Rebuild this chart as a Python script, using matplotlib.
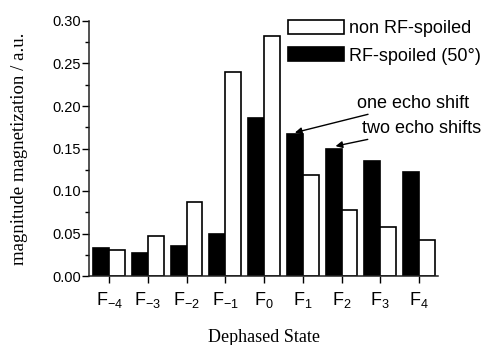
import numpy as np
import matplotlib
matplotlib.use('Agg')
import matplotlib.pyplot as plt
from matplotlib.patches import Patch
from matplotlib.ticker import MultipleLocator

plt.rcParams['font.family'] = ['Liberation Sans', 'DejaVu Sans']
plt.rcParams['mathtext.fontset'] = 'custom'
plt.rcParams['mathtext.rm'] = 'Liberation Sans'
plt.rcParams['mathtext.it'] = 'Liberation Sans:italic'

# dephased states F-4 .. F4
states = [r'F$_{-4}$', r'F$_{-3}$', r'F$_{-2}$', r'F$_{-1}$', r'F$_{0}$',
          r'F$_{1}$', r'F$_{2}$', r'F$_{3}$', r'F$_{4}$']
rf_spoiled = [0.0325, 0.0266, 0.0356, 0.0494, 0.1853, 0.1667, 0.1498, 0.1357, 0.1224]
non_spoiled = [0.0306, 0.0474, 0.0866, 0.2405, 0.282, 0.119, 0.0776, 0.058, 0.0424]

x = np.arange(len(states))
w = 0.41

fig = plt.figure(figsize=(4.89, 3.45), dpi=100)
ax = fig.add_axes([89/489, 69/345, 349/489, 255/345])

ax.bar(x - w/2, rf_spoiled, w, color='black', edgecolor='black', linewidth=1.2)
ax.bar(x + w/2, non_spoiled, w, color='white', edgecolor='black', linewidth=1.2)

ax.set_xlim(-0.52, 8.49)
ax.set_ylim(0, 0.30)
ax.set_xticks(x)
ax.set_xticklabels(states, fontsize=13)
ax.yaxis.set_major_locator(MultipleLocator(0.05))
ax.yaxis.set_minor_locator(MultipleLocator(0.025))
ax.yaxis.set_major_formatter(plt.FormatStrFormatter('%.2f'))
ax.tick_params(axis='y', labelsize=10.5, direction='out', length=5, width=1, pad=1)
ax.tick_params(axis='y', which='minor', direction='out', length=3, width=1)
ax.tick_params(axis='x', direction='out', length=5, width=1, pad=5)
for s in ['top', 'right']:
    ax.spines[s].set_visible(False)
for s in ['left', 'bottom']:
    ax.spines[s].set_linewidth(1.1)
    ax.spines[s].set_color('#222222')

ax.set_ylabel('magnitude magnetization / a.u.', family=['Liberation Serif'], fontsize=13.5, labelpad=17)
ax.set_xlabel('Dephased State', family=['Liberation Serif'], fontsize=13, labelpad=14)

handles = [Patch(facecolor='white', edgecolor='black', linewidth=1.2, label='non RF-spoiled'),
           Patch(facecolor='black', edgecolor='black', linewidth=1.2, label='RF-spoiled (50°)')]
fig.legend(handles=handles, loc='upper left', bbox_to_anchor=(288/489, 1 - 20/345),
           bbox_transform=fig.transFigure, frameon=False, fontsize=13,
           handlelength=3.1, handleheight=0.83, handletextpad=0.28,
           labelspacing=0.55, borderpad=0, borderaxespad=0)

arrow = dict(arrowstyle='-|>', color='black', lw=1.0, mutation_scale=10, shrinkA=0, shrinkB=0)
ax.annotate('one echo shift', xy=(5 - w/2, rf_spoiled[5] + 0.002), xytext=(6.4, 0.2035),
            fontsize=13, va='center', ha='left', arrowprops=arrow)
ax.annotate('two echo shifts', xy=(6 - w/2 + 0.05, rf_spoiled[6] + 0.003), xytext=(6.53, 0.174),
            fontsize=13, va='center', ha='left', arrowprops=arrow)

fig.savefig('out.png', dpi=100)
